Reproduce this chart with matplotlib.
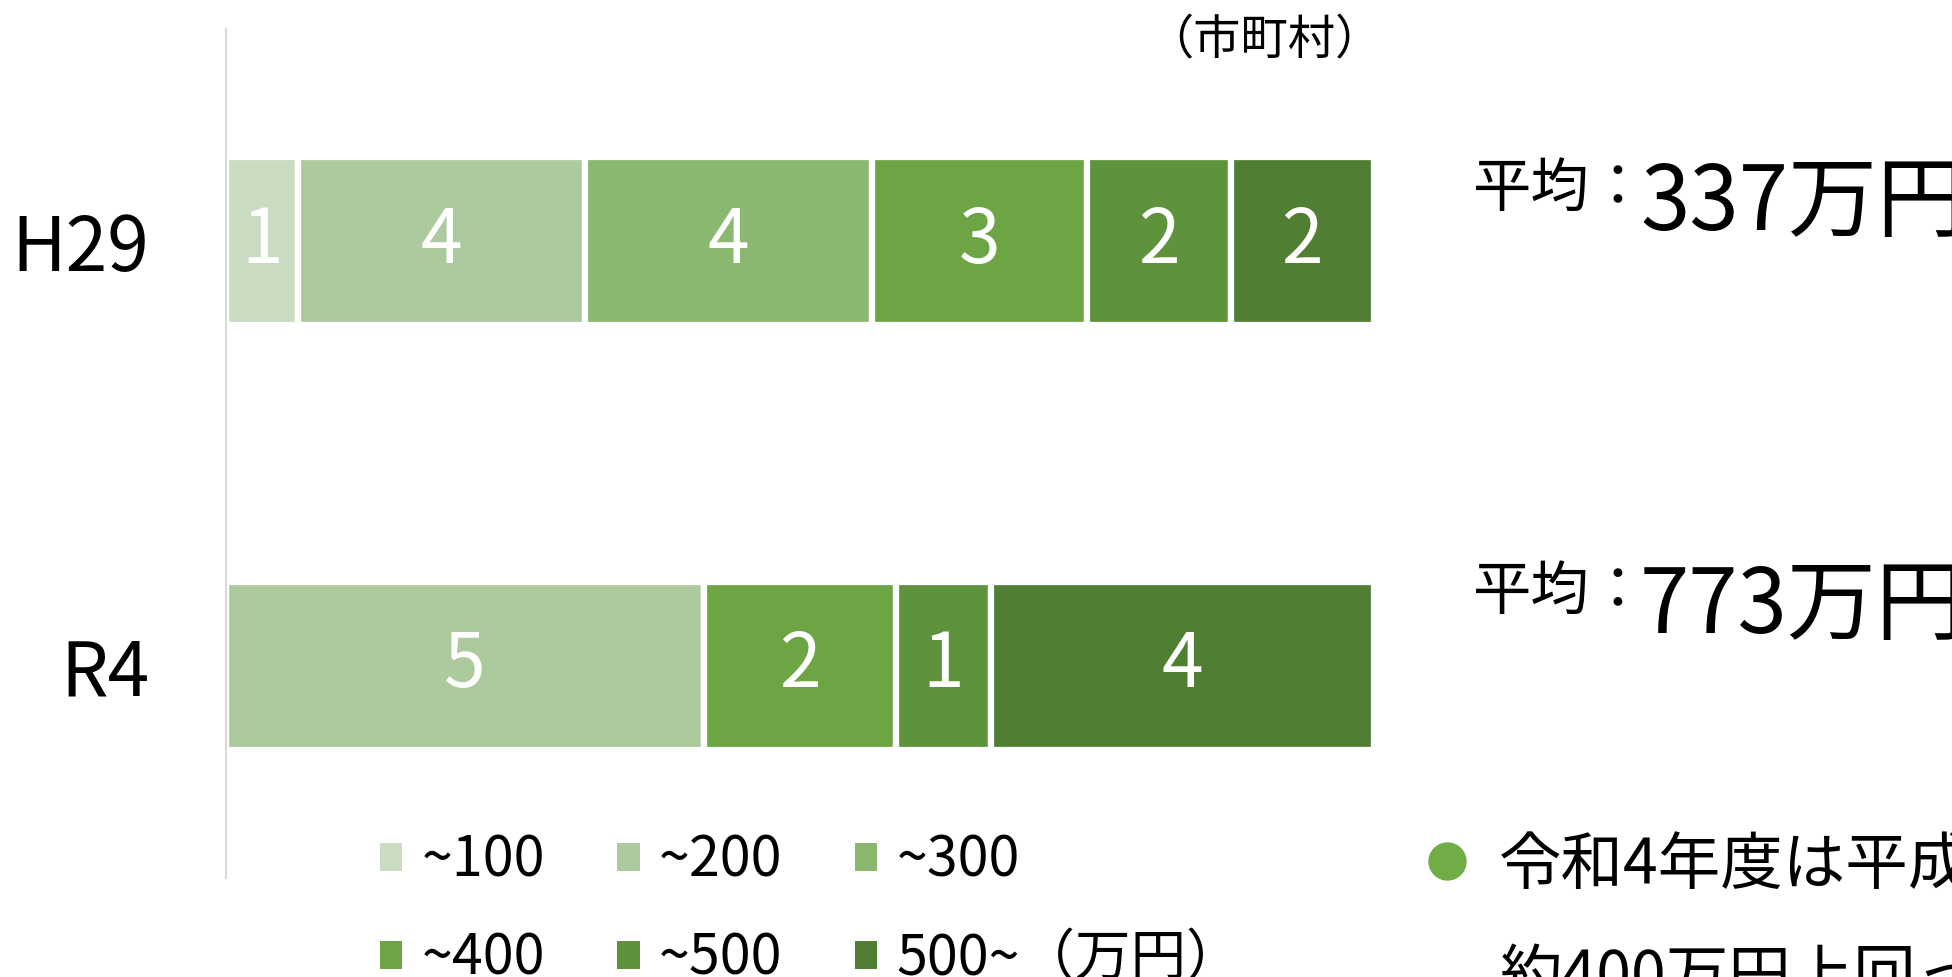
import matplotlib.pyplot as plt
from matplotlib.patches import Patch
from matplotlib.lines import Line2D

plt.rcParams['font.family'] = ['Noto Sans CJK JP', 'DejaVu Sans']

years = ['H29', 'R4']
bands = ['~100', '~200', '~300', '~400', '~500', '500~（万円）']
counts_h29 = [1, 4, 4, 3, 2, 2]
counts_r4 = [0, 5, 0, 2, 1, 4]
averages = [337, 773]
colors = ['#C9DCC2', '#ADCA9E', '#8BB870', '#6DA544', '#5F933B', '#507F33']

W, H = 1952, 977
fig = plt.figure(figsize=(W / 100, H / 100), dpi=100)
ax = fig.add_axes([226 / W, 1 - 878 / H, (1374 - 226) / W, (878 - 29) / H])

# 100% stacked bars, labelled with the number of municipalities
counts = [counts_h29, counts_r4]
totals = [sum(c) for c in counts]
for i, band in enumerate(bands):
    left = [sum(c[:i]) / t for c, t in zip(counts, totals)]
    width = [c[i] / t for c, t in zip(counts, totals)]
    bars = ax.barh(range(len(years)), width, left=left, height=0.396,
                   color=colors[i], edgecolor='white', linewidth=4.5)
    labels = [str(c[i]) if c[i] else '' for c in counts]
    ax.bar_label(bars, labels=labels, label_type='center',
                 color='white', fontsize=54)

ax.set_xlim(0, 1)
ax.set_ylim(1.5, -0.5)
ax.set_xticks([])
ax.set_yticks(range(len(years)))
ax.set_yticklabels(years, fontsize=54)
ax.tick_params(axis='y', length=0, pad=55)
for side in ['top', 'right', 'bottom']:
    ax.spines[side].set_visible(False)
ax.spines['left'].set_color('#D9D9D9')
ax.spines['left'].set_linewidth(1.5)

fig.text(1382 / W, 1 - 40 / H, '（市町村）', fontsize=34, ha='right', va='center')

# legend laid out row by row
handles = [Patch(facecolor=c, edgecolor='none', label=b) for c, b in zip(colors, bands)]
order = [0, 3, 1, 4, 2, 5]
fig.legend(handles=[handles[i] for i in order], ncol=3, loc='upper left',
           bbox_to_anchor=(380 / W, 1 - 832 / H), frameon=False, fontsize=40,
           handlelength=0.4, handleheight=0.4, handletextpad=0.35,
           columnspacing=1.3, labelspacing=0.73, borderpad=0, borderaxespad=0)

# average amount per year
avg_base = [230, 633]
for avg, base in zip(averages, avg_base):
    fig.text(1473 / W, 1 - (base - 24) / H, '平均：', fontsize=42, ha='left', va='baseline')
    fig.text(1640 / W, 1 - base / H, f'{avg}万円', fontsize=64, ha='left', va='baseline')

# note
fig.add_artist(Line2D([1447 / W], [1 - 861 / H], marker='o', markersize=26.6,
                      color='#70AD47', linestyle='none', transform=fig.transFigure))
fig.text(1499 / W, 1 - 884 / H, '令和4年度は平成29年度より', fontsize=45, ha='left', va='baseline')
fig.text(1499 / W, 1 - 996 / H, '約400万円上回っている', fontsize=45, ha='left', va='baseline')

fig.savefig('out.png', dpi=100)
